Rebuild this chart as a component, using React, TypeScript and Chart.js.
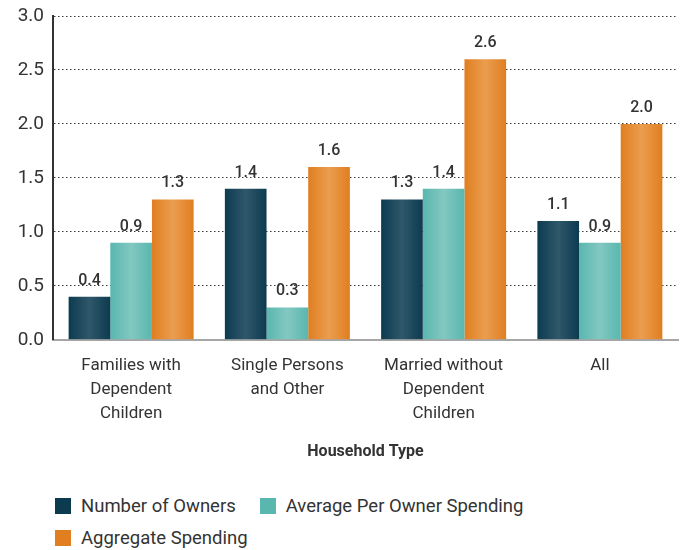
import React, { useEffect, useRef } from "react";
import { Chart, registerables } from "chart.js";

Chart.register(...registerables);

const categories: string[][] = [
  ["Families with", "Dependent", "Children"],
  ["Single Persons", "and Other"],
  ["Married without", "Dependent", "Children"],
  ["All"],
];
const numberOfOwners = [0.4, 1.4, 1.3, 1.1];
const avgPerOwnerSpending = [0.9, 0.3, 1.4, 0.9];
const aggregateSpending = [1.3, 1.6, 2.6, 2.0];
const seriesNames = ["Number of Owners", "Average Per Owner Spending", "Aggregate Spending"];
const yTicks = [0, 0.5, 1.0, 1.5, 2.0, 2.5, 3.0];

const FONT = "Roboto, 'DejaVu Sans', sans-serif";
const TEXT = "#333333";
const edgeColors = ["#0c3b50", "#59b7af", "#e07e20"];
const midColors = ["#30576a", "#82c8c1", "#eb9d4f"];

const CAT_PCT = 0.8;

function gradientFor(ctx: any, di: number) {
  const chart = ctx.chart;
  const xs = chart.scales && chart.scales.x;
  if (!xs || !chart.chartArea || ctx.dataIndex === undefined) return edgeColors[di];
  const catW = (xs.right - xs.left) / categories.length;
  const barW = (catW * CAT_PCT) / 3;
  const center = xs.getPixelForValue(ctx.dataIndex) + (di - 1) * barW;
  const left = center - barW / 2;
  const right = center + barW / 2;
  const g = chart.ctx.createLinearGradient(left, 0, right, 0);
  g.addColorStop(0, edgeColors[di]);
  g.addColorStop(0.5, midColors[di]);
  g.addColorStop(1, edgeColors[di]);
  return g;
}

const valueLabels = {
  id: "valueLabels",
  afterDatasetsDraw(chart: any) {
    const c = chart.ctx;
    c.save();
    c.font = `500 16px ${FONT}`;
    c.fillStyle = TEXT;
    c.textAlign = "center";
    c.textBaseline = "middle";
    chart.data.datasets.forEach((ds: any, di: number) => {
      const meta = chart.getDatasetMeta(di);
      meta.data.forEach((bar: any, i: number) => {
        c.fillText(Number(ds.data[i]).toFixed(1), bar.x, bar.y - 16);
      });
    });
    c.restore();
  },
};

export default function App() {
  const ref = useRef<HTMLCanvasElement>(null);
  useEffect(() => {
    if (!ref.current) return;
    const series = [numberOfOwners, avgPerOwnerSpending, aggregateSpending];
    const chart = new Chart(ref.current, {
      type: "bar",
      data: {
        labels: categories,
        datasets: series.map((d, di) => ({
          label: seriesNames[di],
          data: d,
          backgroundColor: (ctx: any) => gradientFor(ctx, di),
          borderWidth: 0,
          categoryPercentage: CAT_PCT,
          barPercentage: 1.0,
        })),
      },
      options: {
        animation: false,
        responsive: false,
        maintainAspectRatio: false,
        layout: { padding: { top: 16, right: 6, bottom: 8, left: 0 } },
        plugins: {
          legend: { display: false },
          tooltip: { enabled: false },
        },
        scales: {
          x: {
            grid: { display: false, drawTicks: false },
            border: { display: true, color: "#a6a6a6", width: 2 },
            ticks: {
              color: TEXT,
              font: { family: FONT, size: 17, lineHeight: 24 / 17 },
              padding: 14,
              maxRotation: 0,
              autoSkip: false,
            },
            title: {
              display: true,
              text: "Household Type",
              color: TEXT,
              font: { family: FONT, size: 16, weight: "bold" },
              padding: { top: 3, bottom: 0 },
            },
          },
          y: {
            min: 0,
            max: 3,
            afterBuildTicks: (s: any) => {
              s.ticks = yTicks.map((v) => ({ value: v }));
            },
            afterFit: (s: any) => {
              s.width = 53;
              s.paddingTop = 0;
            },
            grid: {
              drawTicks: false,
              color: (c: any) => (c.tick && c.tick.value === 0 ? "rgba(0,0,0,0)" : "#3a3a3a"),
              lineWidth: 1,
            },
            border: { display: true, color: "#333333", width: 2, dash: [1.5, 2.5] },
            ticks: {
              color: TEXT,
              font: { family: FONT, size: 19, lineHeight: 1 },
              padding: 9,
              callback: (v: any) => Number(v).toFixed(1),
            },
          },
        },
      },
      plugins: [valueLabels],
    });
    return () => chart.destroy();
  }, []);

  const legendItem = (name: string, color: string) => (
    <div style={{ display: "flex", alignItems: "center", marginRight: 24 }}>
      <span style={{ display: "inline-block", width: 16, height: 16, background: color, marginRight: 10 }} />
      <span>{name}</span>
    </div>
  );

  return (
    <div style={{ position: "absolute", left: 0, top: 0, width: 684, height: 550, background: "#fff" }}>
      <canvas ref={ref} width={684} height={470} style={{ display: "block" }} />
      <div
        style={{
          position: "absolute",
          left: 55,
          top: 494,
          fontFamily: FONT,
          fontSize: 18.5,
          color: TEXT,
          lineHeight: "24px",
        }}
      >
        <div style={{ display: "flex", marginBottom: 8 }}>
          {legendItem(seriesNames[0], edgeColors[0])}
          {legendItem(seriesNames[1], edgeColors[1])}
        </div>
        <div style={{ display: "flex" }}>{legendItem(seriesNames[2], edgeColors[2])}</div>
      </div>
    </div>
  );
}
